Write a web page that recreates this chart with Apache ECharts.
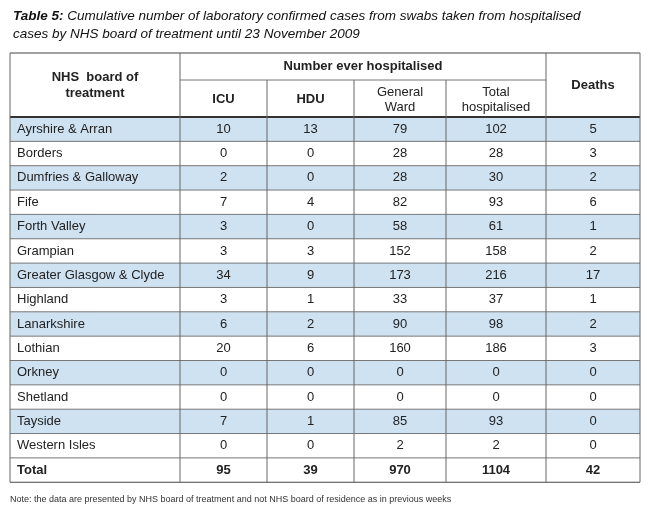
<!DOCTYPE html>
<html lang="en">
<head>
<meta charset="UTF-8">
<title>Table 5</title>
<script src="https://cdn.jsdelivr.net/npm/echarts@6/dist/echarts.min.js"></script>
<style>body{margin:0;background:#fff}</style>
</head>
<body>
<div id="main" style="width:650px;height:511px"></div>
<script>
// table data
const boards = ["Ayrshire & Arran", "Borders", "Dumfries & Galloway", "Fife", "Forth Valley",
  "Grampian", "Greater Glasgow & Clyde", "Highland", "Lanarkshire", "Lothian", "Orkney",
  "Shetland", "Tayside", "Western Isles"];
const icu = [10, 0, 2, 7, 3, 3, 34, 3, 6, 20, 0, 0, 7, 0];
const hdu = [13, 0, 0, 4, 0, 3, 9, 1, 2, 6, 0, 0, 1, 0];
const ward = [79, 28, 28, 82, 58, 152, 173, 33, 90, 160, 0, 0, 85, 2];
const totalHosp = [102, 28, 30, 93, 61, 158, 216, 37, 98, 186, 0, 0, 93, 2];
const deaths = [5, 3, 2, 6, 1, 2, 17, 1, 2, 3, 0, 0, 0, 0];
const totals = [95, 39, 970, 1104, 42];
const subHeads = ["ICU", "HDU", "General\nWard", "Total\nhospitalised"];

const font = "Liberation Sans";
const colX = [10, 180, 267, 354, 446, 546, 640];
const tableTop = 53, headBot = 117, rowH = 24.35, midY = 80;
const stripe = "#cfe2f1";

let els = [];
function txt(x, y, s, opts) {
  els.push({ type: "text", x: x, y: y, style: Object.assign({ text: s, font: "13px " + font,
    fill: "#222", textAlign: "center", textVerticalAlign: "middle" }, opts || {}) });
}
function line(x1, y1, x2, y2, w, c) {
  els.push({ type: "line", shape: { x1: x1, y1: y1, x2: x2, y2: y2 },
    style: { stroke: c || "#555", lineWidth: w || 1 } });
}

let rows = boards.map((b, i) => [b, icu[i], hdu[i], ward[i], totalHosp[i], deaths[i]]);
rows.push(["Total"].concat(totals));

rows.forEach((r, i) => {
  const y0 = headBot + i * rowH;
  if (i % 2 === 0 && i < boards.length) {
    els.push({ type: "rect", shape: { x: colX[0], y: y0, width: colX[6] - colX[0], height: rowH },
      style: { fill: stripe } });
  }
  const bold = i === boards.length;
  txt(colX[0] + 7, y0 + rowH / 2, r[0], { textAlign: "left", font: (bold ? "bold " : "") + "13px " + font });
  for (let c = 1; c < 6; c++) {
    txt((colX[c] + colX[c + 1]) / 2, y0 + rowH / 2, String(r[c]), { font: (bold ? "bold " : "") + "13px " + font });
  }
});

// headers
txt((colX[0] + colX[1]) / 2, (tableTop + headBot) / 2, "NHS  board of\ntreatment", { font: "bold 13px " + font, lineHeight: 16 });
txt((colX[1] + colX[5]) / 2, (tableTop + midY) / 2, "Number ever hospitalised", { font: "bold 13px " + font });
subHeads.forEach((h, k) => {
  txt((colX[k + 1] + colX[k + 2]) / 2, (midY + headBot) / 2 + 1, h, { font: (k < 2 ? "bold " : "") + "13px " + font, lineHeight: 15 });
});
txt((colX[5] + colX[6]) / 2, (tableTop + headBot) / 2, "Deaths", { font: "bold 13px " + font });

// grid lines
const bottom = headBot + rows.length * rowH;
for (let i = 1; i < rows.length; i++) line(colX[0], headBot + i * rowH, colX[6], headBot + i * rowH, 1, "#777");
line(colX[0], tableTop, colX[6], tableTop, 1.2, "#444");
line(colX[0], headBot, colX[6], headBot, 2, "#333");
line(colX[0], bottom, colX[6], bottom, 1.2, "#444");
line(colX[1], midY, colX[5], midY, 1, "#777");
colX.forEach((x, k) => {
  const y1 = (k >= 2 && k <= 4) ? midY : tableTop;
  line(x, y1, x, bottom, 1, "#666");
});

let myChart = echarts.init(document.getElementById("main"));
myChart.setOption({
  animation: false,
  title: {
    text: "{b|Table 5:} Cumulative number of laboratory confirmed cases from swabs taken from hospitalised\ncases by NHS board of treatment until 23 November 2009",
    left: 8, top: 2,
    textStyle: { fontFamily: font, fontStyle: "italic", fontWeight: "normal", fontSize: 13.5, color: "#111", lineHeight: 18,
      rich: { b: { fontWeight: "bold", fontStyle: "italic", fontSize: 13.5, fontFamily: font } } }
  },
  graphic: els.concat([{ type: "text", x: 10, y: 500, style: { text: "Note: the data are presented by NHS board of treatment and not NHS board of residence as in previous weeks",
    font: "9px " + font, fill: "#333", textVerticalAlign: "middle" } }])
});
</script>
</body>
</html>
